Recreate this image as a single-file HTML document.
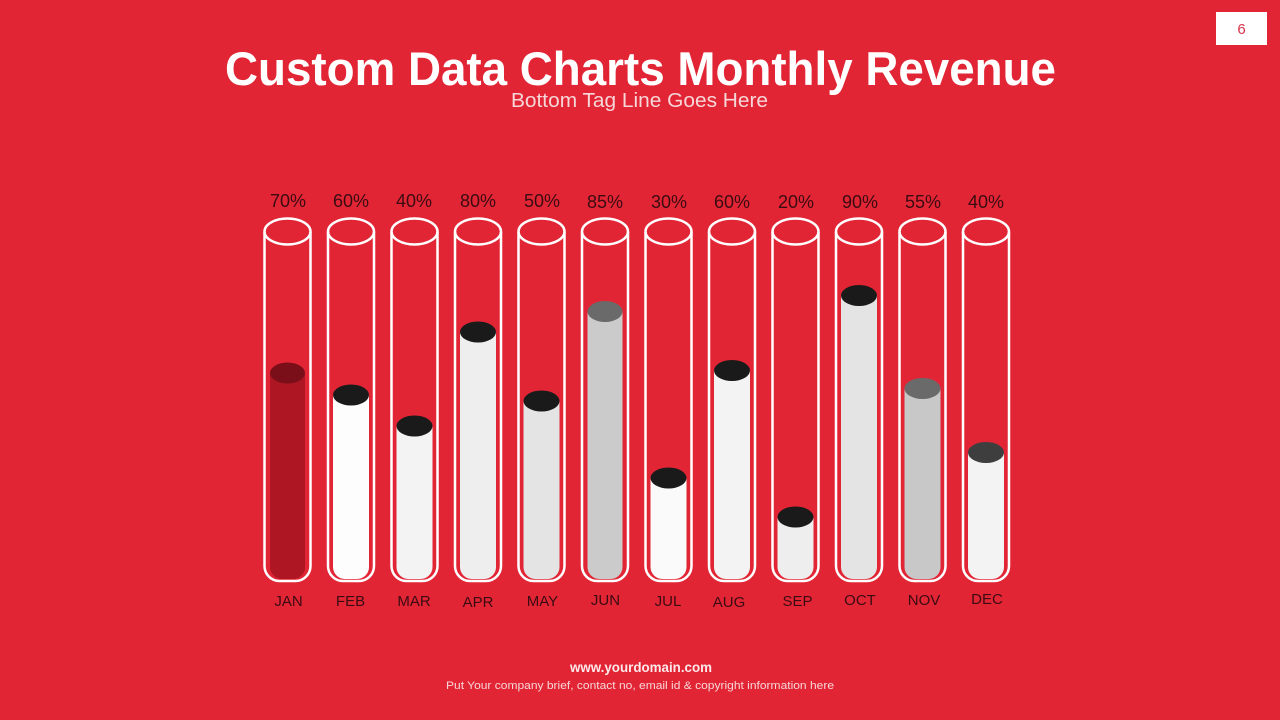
<!DOCTYPE html>
<html>
<head>
<meta charset="utf-8">
<style>
html,body{margin:0;padding:0;background:#E22535;}
svg{display:block;}
text{font-family:"Liberation Sans",sans-serif;}
</style>
</head>
<body>
<svg width="1280" height="720" viewBox="0 0 1280 720" xmlns="http://www.w3.org/2000/svg">
<rect x="0" y="0" width="1280" height="720" fill="#E22535"/>

<!-- page number -->
<rect x="1216" y="12" width="51" height="33" fill="#FFFFFF"/>
<text x="1241.5" y="34" font-size="15" fill="#D8344A" text-anchor="middle">6</text>

<!-- title -->
<text x="225" y="85" font-size="47" font-weight="bold" fill="#FFFFFF" textLength="831" lengthAdjust="spacingAndGlyphs">Custom Data Charts Monthly Revenue</text>
<text x="511" y="107" font-size="20" fill="#F7D6D8" textLength="257" lengthAdjust="spacingAndGlyphs">Bottom Tag Line Goes Here</text>

<g id="tubes">
</g>

<!-- footer -->
<text x="570" y="672" font-size="14" font-weight="bold" fill="#FCE9EA" textLength="142" lengthAdjust="spacingAndGlyphs">www.yourdomain.com</text>
<text x="446" y="689" font-size="11" fill="#F7D6D8" textLength="388" lengthAdjust="spacingAndGlyphs">Put Your company brief, contact no, email id  &amp; copyright information here</text>

<!-- Tubes generated inline -->
<g fill="none" stroke="#FFFFFF" stroke-width="2.5">
  <!-- outlines: path per tube -->
  <path d="M264.5 232 V566 a15 15 0 0 0 15 15 h16 a15 15 0 0 0 15 -15 V232"/>
  <path d="M328 232 V566 a15 15 0 0 0 15 15 h16 a15 15 0 0 0 15 -15 V232"/>
  <path d="M391.5 232 V566 a15 15 0 0 0 15 15 h16 a15 15 0 0 0 15 -15 V232"/>
  <path d="M455 232 V566 a15 15 0 0 0 15 15 h16 a15 15 0 0 0 15 -15 V232"/>
  <path d="M518.5 232 V566 a15 15 0 0 0 15 15 h16 a15 15 0 0 0 15 -15 V232"/>
  <path d="M582 232 V566 a15 15 0 0 0 15 15 h16 a15 15 0 0 0 15 -15 V232"/>
  <path d="M645.5 232 V566 a15 15 0 0 0 15 15 h16 a15 15 0 0 0 15 -15 V232"/>
  <path d="M709 232 V566 a15 15 0 0 0 15 15 h16 a15 15 0 0 0 15 -15 V232"/>
  <path d="M772.5 232 V566 a15 15 0 0 0 15 15 h16 a15 15 0 0 0 15 -15 V232"/>
  <path d="M836 232 V566 a15 15 0 0 0 15 15 h16 a15 15 0 0 0 15 -15 V232"/>
  <path d="M899.5 232 V566 a15 15 0 0 0 15 15 h16 a15 15 0 0 0 15 -15 V232"/>
  <path d="M963 232 V566 a15 15 0 0 0 15 15 h16 a15 15 0 0 0 15 -15 V232"/>
  <ellipse cx="287.5" cy="231.5" rx="23" ry="13"/>
  <ellipse cx="351" cy="231.5" rx="23" ry="13"/>
  <ellipse cx="414.5" cy="231.5" rx="23" ry="13"/>
  <ellipse cx="478" cy="231.5" rx="23" ry="13"/>
  <ellipse cx="541.5" cy="231.5" rx="23" ry="13"/>
  <ellipse cx="605" cy="231.5" rx="23" ry="13"/>
  <ellipse cx="668.5" cy="231.5" rx="23" ry="13"/>
  <ellipse cx="732" cy="231.5" rx="23" ry="13"/>
  <ellipse cx="795.5" cy="231.5" rx="23" ry="13"/>
  <ellipse cx="859" cy="231.5" rx="23" ry="13"/>
  <ellipse cx="922.5" cy="231.5" rx="23" ry="13"/>
  <ellipse cx="986" cy="231.5" rx="23" ry="13"/>
</g>

<!-- fills: body path from cap center down to 579 with rounded bottom -->
<g>
  <path d="M270 373 V567 a12 12 0 0 0 12 12 h11 a12 12 0 0 0 12 -12 V373 Z" fill="#AE1624"/>
  <ellipse cx="287.5" cy="373" rx="17.5" ry="10.5" fill="#7B0F19"/>

  <path d="M333 395 V567 a12 12 0 0 0 12 12 h12 a12 12 0 0 0 12 -12 V395 Z" fill="#FDFDFD"/>
  <ellipse cx="351" cy="395" rx="18" ry="10.5" fill="#1A1A1A"/>

  <path d="M396.5 426 V567 a12 12 0 0 0 12 12 h12 a12 12 0 0 0 12 -12 V426 Z" fill="#F3F3F3"/>
  <ellipse cx="414.5" cy="426" rx="18" ry="10.5" fill="#1A1A1A"/>

  <path d="M460 332 V567 a12 12 0 0 0 12 12 h12 a12 12 0 0 0 12 -12 V332 Z" fill="#EEEEEE"/>
  <ellipse cx="478" cy="332" rx="18" ry="10.5" fill="#1A1A1A"/>

  <path d="M523.5 401 V567 a12 12 0 0 0 12 12 h12 a12 12 0 0 0 12 -12 V401 Z" fill="#E4E4E4"/>
  <ellipse cx="541.5" cy="401" rx="18" ry="10.5" fill="#1A1A1A"/>

  <path d="M587.5 311.5 V567 a12 12 0 0 0 12 12 h11 a12 12 0 0 0 12 -12 V311.5 Z" fill="#CBCBCB"/>
  <ellipse cx="605" cy="311.5" rx="17.5" ry="10.5" fill="#6A6A6A"/>

  <path d="M650.5 478 V567 a12 12 0 0 0 12 12 h12 a12 12 0 0 0 12 -12 V478 Z" fill="#FAFAFA"/>
  <ellipse cx="668.5" cy="478" rx="18" ry="10.5" fill="#1A1A1A"/>

  <path d="M714 370.5 V567 a12 12 0 0 0 12 12 h12 a12 12 0 0 0 12 -12 V370.5 Z" fill="#F3F3F3"/>
  <ellipse cx="732" cy="370.5" rx="18" ry="10.5" fill="#1A1A1A"/>

  <path d="M777.5 517 V567 a12 12 0 0 0 12 12 h12 a12 12 0 0 0 12 -12 V517 Z" fill="#EEEEEE"/>
  <ellipse cx="795.5" cy="517" rx="18" ry="10.5" fill="#1A1A1A"/>

  <path d="M841 295.5 V567 a12 12 0 0 0 12 12 h12 a12 12 0 0 0 12 -12 V295.5 Z" fill="#E4E4E4"/>
  <ellipse cx="859" cy="295.5" rx="18" ry="10.5" fill="#1A1A1A"/>

  <path d="M904.5 388.5 V567 a12 12 0 0 0 12 12 h12 a12 12 0 0 0 12 -12 V388.5 Z" fill="#C8C8C8"/>
  <ellipse cx="922.5" cy="388.5" rx="18" ry="10.5" fill="#6A6A6A"/>

  <path d="M968 452.5 V567 a12 12 0 0 0 12 12 h12 a12 12 0 0 0 12 -12 V452.5 Z" fill="#F3F3F3"/>
  <ellipse cx="986" cy="452.5" rx="18" ry="10.5" fill="#3E3E3E"/>
</g>

<!-- percent labels -->
<g font-size="18" fill="#3A0C12" text-anchor="middle">
  <text x="288" y="207">70%</text>
  <text x="351" y="207">60%</text>
  <text x="414" y="207">40%</text>
  <text x="478" y="207">80%</text>
  <text x="542" y="207">50%</text>
  <text x="605" y="208">85%</text>
  <text x="669" y="208">30%</text>
  <text x="732" y="208">60%</text>
  <text x="796" y="208">20%</text>
  <text x="860" y="208">90%</text>
  <text x="923" y="208">55%</text>
  <text x="986" y="208">40%</text>
</g>

<!-- month labels -->
<g font-size="15" fill="#3A0C12" text-anchor="middle">
  <text x="288.5" y="606">JAN</text>
  <text x="350.5" y="606">FEB</text>
  <text x="414" y="606">MAR</text>
  <text x="478" y="607">APR</text>
  <text x="542.5" y="606">MAY</text>
  <text x="605.5" y="605">JUN</text>
  <text x="668" y="606">JUL</text>
  <text x="729" y="607">AUG</text>
  <text x="797.5" y="606">SEP</text>
  <text x="860" y="605">OCT</text>
  <text x="924" y="605">NOV</text>
  <text x="987" y="604">DEC</text>
</g>
</svg>
</body>
</html>
